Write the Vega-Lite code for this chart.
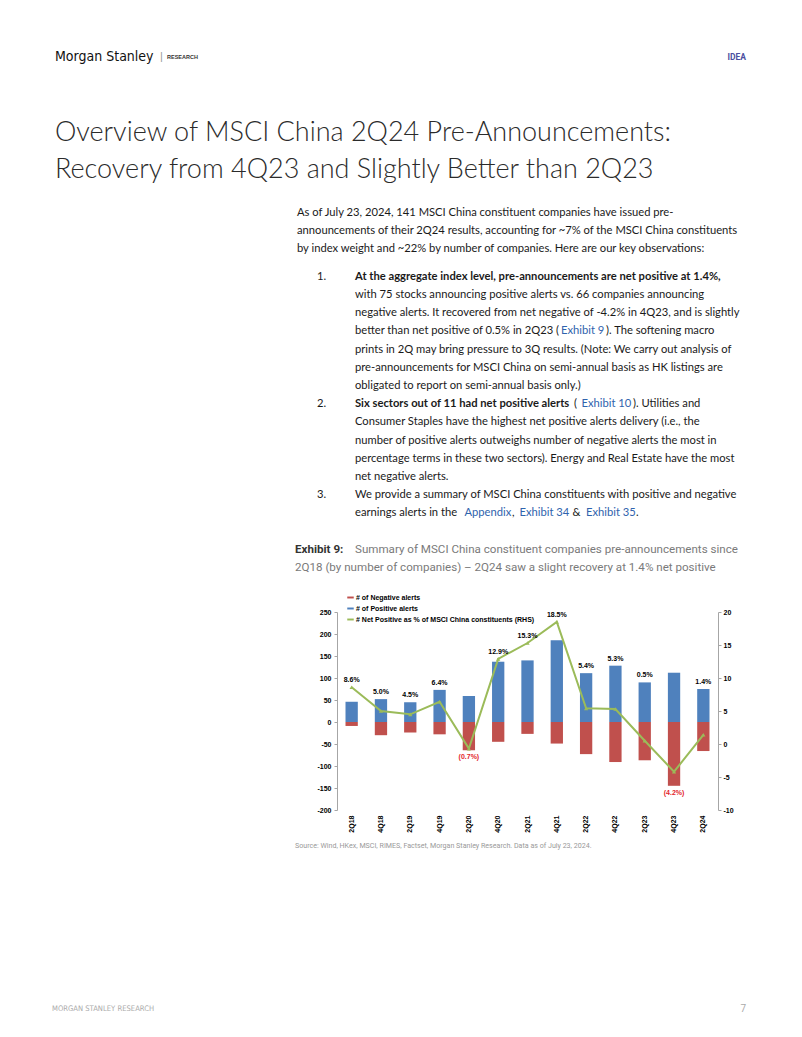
{
"$schema":"https://vega.github.io/schema/vega-lite/v6.json",
"width":381,"height":198,
"autosize":"none",
"padding":{"left":337,"top":612,"right":84,"bottom":227},
"background":"white",
"config":{"view":{"stroke":null},"font":"Liberation Sans"},
"datasets":{
"chart":[
{"q":"2Q18","pos":46,"neg":-9,"pct":8.6,"label":"8.6%"},
{"q":"4Q18","pos":52,"neg":-30,"pct":5.0,"label":"5.0%"},
{"q":"2Q19","pos":45,"neg":-24,"pct":4.5,"label":"4.5%"},
{"q":"4Q19","pos":73,"neg":-28,"pct":6.4,"label":"6.4%"},
{"q":"2Q20","pos":59,"neg":-64,"pct":-0.7,"label":"(0.7%)"},
{"q":"4Q20","pos":137,"neg":-45,"pct":12.9,"label":"12.9%"},
{"q":"2Q21","pos":140,"neg":-27,"pct":15.3,"label":"15.3%"},
{"q":"4Q21","pos":186,"neg":-49,"pct":18.5,"label":"18.5%"},
{"q":"2Q22","pos":111,"neg":-73,"pct":5.4,"label":"5.4%"},
{"q":"4Q22","pos":128,"neg":-91,"pct":5.3,"label":"5.3%"},
{"q":"2Q23","pos":90,"neg":-87,"pct":0.5,"label":"0.5%"},
{"q":"4Q23","pos":112,"neg":-145,"pct":-4.2,"label":"(4.2%)"},
{"q":"2Q24","pos":75,"neg":-66,"pct":1.4,"label":"1.4%"}
],
"page":[
{"block":"brand","line":-8.57,"text":"Morgan Stanley"},
{"block":"sep","line":-8.57,"text":"|"},
{"block":"research","line":-8.57,"text":"RESEARCH"},
{"block":"idea","line":-8.57,"text":"IDEA"},
{"block":"title","line":-4.40,"text":"Overview of MSCI China 2Q24 Pre-Announcements:"},
{"block":"title","line":-2.36,"text":"Recovery from 4Q23 and Slightly Better than 2Q23"},
{"block":"body","line":0,"text":"As of July 23, 2024, 141 MSCI China constituent companies have issued pre-"},
{"block":"body","line":1,"text":"announcements of their 2Q24 results, accounting for ~7% of the MSCI China constituents"},
{"block":"body","line":2,"text":"by index weight and ~22% by number of companies. Here are our key observations:"},
{"block":"num","line":3.5,"text":"1."},
{"block":"num","line":10.5,"text":"2."},
{"block":"num","line":15.5,"text":"3."},
{"block":"itembold","line":3.5,"text":"At the aggregate index level, pre-announcements are net positive at 1.4%,"},
{"block":"itembold","line":10.5,"text":"Six sectors out of 11 had net positive alerts"},
{"block":"item","line":4.5,"text":"with 75 stocks announcing positive alerts vs. 66 companies announcing"},
{"block":"item","line":5.5,"text":"negative alerts. It recovered from net negative of -4.2% in 4Q23, and is slightly"},
{"block":"item","line":6.5,"text":"better than net positive of 0.5% in 2Q23 ("},
{"block":"exh9","line":6.5,"text":"Exhibit 9"},
{"block":"after9","line":6.5,"text":"). The softening macro"},
{"block":"item","line":7.5,"text":"prints in 2Q may bring pressure to 3Q results. (Note: We carry out analysis of"},
{"block":"item","line":8.5,"text":"pre-announcements for MSCI China on semi-annual basis as HK listings are"},
{"block":"item","line":9.5,"text":"obligated to report on semi-annual basis only.)"},
{"block":"paren10","line":10.5,"text":"("},
{"block":"exh10","line":10.5,"text":"Exhibit 10"},
{"block":"after10","line":10.5,"text":"). Utilities and"},
{"block":"item","line":11.5,"text":"Consumer Staples have the highest net positive alerts delivery (i.e., the"},
{"block":"item","line":12.5,"text":"number of positive alerts outweighs number of negative alerts the most in"},
{"block":"item","line":13.5,"text":"percentage terms in these two sectors). Energy and Real Estate have the most"},
{"block":"item","line":14.5,"text":"net negative alerts."},
{"block":"item","line":15.5,"text":"We provide a summary of MSCI China constituents with positive and negative"},
{"block":"item","line":16.5,"text":"earnings alerts in the"},
{"block":"appendix","line":16.5,"text":"Appendix"},
{"block":"comma","line":16.5,"text":","},
{"block":"exh34","line":16.5,"text":"Exhibit 34"},
{"block":"amp","line":16.5,"text":"&"},
{"block":"exh35","line":16.5,"text":"Exhibit 35"},
{"block":"period","line":16.5,"text":"."},
{"block":"capbold","line":18.52,"text":"Exhibit 9:"},
{"block":"cap","line":18.52,"text":"Summary of MSCI China constituent companies pre-announcements since"},
{"block":"cap2","line":19.51,"text":"2Q18 (by number of companies) – 2Q24 saw a slight recovery at 1.4% net positive"},
{"block":"source","line":34.78,"text":"Source: Wind, HKex, MSCI, RIMES, Factset, Morgan Stanley Research. Data as of July 23, 2024."},
{"block":"footer","line":43.74,"text":"MORGAN STANLEY RESEARCH"},
{"block":"pagenum","line":43.74,"text":"7"}
]
},
"layer":[
{"data":{"name":"chart"},
 "encoding":{"x":{"field":"q","type":"ordinal","sort":null,"scale":{"paddingInner":0.58,"paddingOuter":0.29},
   "axis":{"title":null,"labelAngle":-90,"domain":false,"ticks":false,"labelPadding":5,"labelFont":"Liberation Sans","labelFontWeight":"bold","labelFontSize":7,"labelColor":"#000"}}},
 "layer":[
  {"layer":[
    {"mark":{"type":"bar"},
     "encoding":{"y":{"field":"pos","type":"quantitative","scale":{"domain":[-200,250],"nice":false,"zero":false},
        "axis":{"orient":"left","title":null,"grid":false,"values":[-200,-150,-100,-50,0,50,100,150,200,250],"labelOverlap":false,"labelExpr":"toString(datum.value)","domainColor":"#a6a6a6","tickColor":"#a6a6a6","tickSize":3,"labelPadding":3,"labelFont":"Liberation Sans","labelFontWeight":"bold","labelFontSize":7,"labelColor":"#000"}},
      "color":{"datum":"# of Positive alerts","type":"nominal",
        "scale":{"domain":["# of Negative alerts","# of Positive alerts","# Net Positive as % of MSCI China constituents (RHS)"],"range":["#c0504d","#4f81bd","#9bbb59"]},
        "legend":{"orient":"none","legendX":10,"legendY":-18,"title":null,"symbolType":"M-1,-0.3H1V0.3H-1Z","symbolSize":42,"symbolStrokeWidth":0,"labelFont":"Liberation Sans","labelFontWeight":"bold","labelFontSize":7,"labelColor":"#000","rowPadding":3,"labelOffset":2,"labelLimit":400}}}},
    {"mark":{"type":"bar"},
     "encoding":{"y":{"field":"neg","type":"quantitative",
        "axis":{"orient":"left","title":null,"grid":false,"values":[-200,-150,-100,-50,0,50,100,150,200,250],"labelOverlap":false,"labelExpr":"toString(datum.value)","domainColor":"#a6a6a6","tickColor":"#a6a6a6","tickSize":3,"labelPadding":3,"labelFont":"Liberation Sans","labelFontWeight":"bold","labelFontSize":7,"labelColor":"#000"}},
      "color":{"datum":"# of Negative alerts","type":"nominal"}}},
    {"mark":{"type":"rule","color":"#a6a6a6","strokeWidth":1},"encoding":{"y":{"datum":0,"type":"quantitative",
        "axis":{"orient":"left","title":null,"grid":false,"values":[-200,-150,-100,-50,0,50,100,150,200,250],"labelOverlap":false,"labelExpr":"toString(datum.value)","domainColor":"#a6a6a6","tickColor":"#a6a6a6","tickSize":3,"labelPadding":3,"labelFont":"Liberation Sans","labelFontWeight":"bold","labelFontSize":7,"labelColor":"#000"}}}},
    {"transform":[{"filter":"datum.pct >= 0 && (datum.pct+10)/30 <= (datum.pos+200)/450"}],
     "mark":{"type":"text","font":"Liberation Sans","fontWeight":"bold","fontSize":7,"color":"#000","baseline":"bottom","dy":-4},
     "encoding":{"y":{"field":"pos","type":"quantitative",
        "axis":{"orient":"left","title":null,"grid":false,"values":[-200,-150,-100,-50,0,50,100,150,200,250],"labelOverlap":false,"labelExpr":"toString(datum.value)","domainColor":"#a6a6a6","tickColor":"#a6a6a6","tickSize":3,"labelPadding":3,"labelFont":"Liberation Sans","labelFontWeight":"bold","labelFontSize":7,"labelColor":"#000"}},"text":{"field":"label"}}},
    {"transform":[{"filter":"datum.pct < 0"}],
     "mark":{"type":"text","font":"Liberation Sans","fontWeight":"bold","fontSize":7,"color":"#e3262b","baseline":"top","dy":3},
     "encoding":{"y":{"field":"neg","type":"quantitative",
        "axis":{"orient":"left","title":null,"grid":false,"values":[-200,-150,-100,-50,0,50,100,150,200,250],"labelOverlap":false,"labelExpr":"toString(datum.value)","domainColor":"#a6a6a6","tickColor":"#a6a6a6","tickSize":3,"labelPadding":3,"labelFont":"Liberation Sans","labelFontWeight":"bold","labelFontSize":7,"labelColor":"#000"}},"text":{"field":"label"}}}
  ]},
  {"layer":[
    {"mark":{"type":"line","strokeWidth":2,"point":{"filled":true,"shape":"triangle-up","size":18}},
     "encoding":{"y":{"field":"pct","type":"quantitative","scale":{"domain":[-10,20],"nice":false,"zero":false},
        "axis":{"orient":"right","title":null,"grid":false,"values":[-10,-5,0,5,10,15,20],"labelOverlap":false,"labelExpr":"toString(datum.value)","domainColor":"#a6a6a6","tickColor":"#a6a6a6","tickSize":3,"labelPadding":2,"labelFont":"Liberation Sans","labelFontWeight":"bold","labelFontSize":7,"labelColor":"#000"}},
      "color":{"datum":"# Net Positive as % of MSCI China constituents (RHS)","type":"nominal"}}},
    {"transform":[{"filter":"datum.pct >= 0 && (datum.pct+10)/30 > (datum.pos+200)/450"}],
     "mark":{"type":"text","font":"Liberation Sans","fontWeight":"bold","fontSize":7,"color":"#000","baseline":"bottom","dy":-4},
     "encoding":{"y":{"field":"pct","type":"quantitative",
        "axis":{"orient":"right","title":null,"grid":false,"values":[-10,-5,0,5,10,15,20],"labelOverlap":false,"labelExpr":"toString(datum.value)","domainColor":"#a6a6a6","tickColor":"#a6a6a6","tickSize":3,"labelPadding":2,"labelFont":"Liberation Sans","labelFontWeight":"bold","labelFontSize":7,"labelColor":"#000"}},"text":{"field":"label"}}}
  ]}
 ],
 "resolve":{"scale":{"y":"independent"}}
},
{"data":{"name":"page"},
 "encoding":{"y":{"field":"line","type":"quantitative","scale":{"domain":[0,10],"range":[-399,-217],"zero":false,"nice":false},"axis":null},"text":{"field":"text"}},
 "layer":[
  {"transform":[{"filter":"datum.block == 'brand'"}],"mark":{"type":"text","align":"left","font":"DejaVu Sans Condensed, Roboto","fontSize":14,"color":"#111"},
   "encoding":{"x":{"datum":55,"type":"quantitative","scale":{"domain":[0,802],"range":[-337,465],"zero":false,"nice":false},"axis":null}}},
  {"transform":[{"filter":"datum.block == 'sep'"}],"mark":{"type":"text","align":"left","font":"Liberation Sans","fontSize":11,"color":"#999"},
   "encoding":{"x":{"datum":160,"type":"quantitative","scale":{"domain":[0,802],"range":[-337,465],"zero":false,"nice":false},"axis":null}}},
  {"transform":[{"filter":"datum.block == 'research'"}],"mark":{"type":"text","align":"left","font":"Liberation Sans","fontWeight":"bold","fontSize":5.5,"color":"#333"},
   "encoding":{"x":{"datum":167,"type":"quantitative","scale":{"domain":[0,802],"range":[-337,465],"zero":false,"nice":false},"axis":null}}},
  {"transform":[{"filter":"datum.block == 'idea'"}],"mark":{"type":"text","align":"right","font":"Roboto","fontWeight":"bold","fontSize":8.5,"color":"#4b4fa0"},
   "encoding":{"x":{"datum":746,"type":"quantitative","scale":{"domain":[0,802],"range":[-337,465],"zero":false,"nice":false},"axis":null}}},
  {"transform":[{"filter":"datum.block == 'title'"}],"mark":{"type":"text","align":"left","font":"Lato","fontWeight":300,"fontSize":27,"color":"#2b2b2b"},
   "encoding":{"x":{"datum":55,"type":"quantitative","scale":{"domain":[0,802],"range":[-337,465],"zero":false,"nice":false},"axis":null}}},
  {"transform":[{"filter":"datum.block == 'body'"}],"mark":{"type":"text","align":"left","font":"Lato","fontSize":11.2,"color":"#1a1a1a"},
   "encoding":{"x":{"datum":297,"type":"quantitative","scale":{"domain":[0,802],"range":[-337,465],"zero":false,"nice":false},"axis":null}}},
  {"transform":[{"filter":"datum.block == 'num'"}],"mark":{"type":"text","align":"left","font":"Lato","fontSize":11.2,"color":"#1a1a1a"},
   "encoding":{"x":{"datum":317,"type":"quantitative","scale":{"domain":[0,802],"range":[-337,465],"zero":false,"nice":false},"axis":null}}},
  {"transform":[{"filter":"datum.block == 'itembold'"}],"mark":{"type":"text","align":"left","font":"Lato","fontWeight":"bold","fontSize":11.2,"color":"#1a1a1a"},
   "encoding":{"x":{"datum":355,"type":"quantitative","scale":{"domain":[0,802],"range":[-337,465],"zero":false,"nice":false},"axis":null}}},
  {"transform":[{"filter":"datum.block == 'item'"}],"mark":{"type":"text","align":"left","font":"Lato","fontSize":11.2,"color":"#1a1a1a"},
   "encoding":{"x":{"datum":355,"type":"quantitative","scale":{"domain":[0,802],"range":[-337,465],"zero":false,"nice":false},"axis":null}}},
  {"transform":[{"filter":"datum.block == 'exh9'"}],"mark":{"type":"text","align":"left","font":"Lato","fontSize":11.2,"color":"#2f63ad"},
   "encoding":{"x":{"datum":561,"type":"quantitative","scale":{"domain":[0,802],"range":[-337,465],"zero":false,"nice":false},"axis":null}}},
  {"transform":[{"filter":"datum.block == 'after9'"}],"mark":{"type":"text","align":"left","font":"Lato","fontSize":11.2,"color":"#1a1a1a"},
   "encoding":{"x":{"datum":606,"type":"quantitative","scale":{"domain":[0,802],"range":[-337,465],"zero":false,"nice":false},"axis":null}}},
  {"transform":[{"filter":"datum.block == 'paren10'"}],"mark":{"type":"text","align":"left","font":"Lato","fontSize":11.2,"color":"#1a1a1a"},
   "encoding":{"x":{"datum":574,"type":"quantitative","scale":{"domain":[0,802],"range":[-337,465],"zero":false,"nice":false},"axis":null}}},
  {"transform":[{"filter":"datum.block == 'exh10'"}],"mark":{"type":"text","align":"left","font":"Lato","fontSize":11.2,"color":"#2f63ad"},
   "encoding":{"x":{"datum":581.5,"type":"quantitative","scale":{"domain":[0,802],"range":[-337,465],"zero":false,"nice":false},"axis":null}}},
  {"transform":[{"filter":"datum.block == 'after10'"}],"mark":{"type":"text","align":"left","font":"Lato","fontSize":11.2,"color":"#1a1a1a"},
   "encoding":{"x":{"datum":633,"type":"quantitative","scale":{"domain":[0,802],"range":[-337,465],"zero":false,"nice":false},"axis":null}}},
  {"transform":[{"filter":"datum.block == 'appendix'"}],"mark":{"type":"text","align":"left","font":"Lato","fontSize":11.2,"color":"#2f63ad"},
   "encoding":{"x":{"datum":464.5,"type":"quantitative","scale":{"domain":[0,802],"range":[-337,465],"zero":false,"nice":false},"axis":null}}},
  {"transform":[{"filter":"datum.block == 'comma'"}],"mark":{"type":"text","align":"left","font":"Lato","fontSize":11.2,"color":"#1a1a1a"},
   "encoding":{"x":{"datum":512,"type":"quantitative","scale":{"domain":[0,802],"range":[-337,465],"zero":false,"nice":false},"axis":null}}},
  {"transform":[{"filter":"datum.block == 'exh34'"}],"mark":{"type":"text","align":"left","font":"Lato","fontSize":11.2,"color":"#2f63ad"},
   "encoding":{"x":{"datum":519.5,"type":"quantitative","scale":{"domain":[0,802],"range":[-337,465],"zero":false,"nice":false},"axis":null}}},
  {"transform":[{"filter":"datum.block == 'amp'"}],"mark":{"type":"text","align":"left","font":"Lato","fontSize":11.2,"color":"#1a1a1a"},
   "encoding":{"x":{"datum":572.5,"type":"quantitative","scale":{"domain":[0,802],"range":[-337,465],"zero":false,"nice":false},"axis":null}}},
  {"transform":[{"filter":"datum.block == 'exh35'"}],"mark":{"type":"text","align":"left","font":"Lato","fontSize":11.2,"color":"#2f63ad"},
   "encoding":{"x":{"datum":586,"type":"quantitative","scale":{"domain":[0,802],"range":[-337,465],"zero":false,"nice":false},"axis":null}}},
  {"transform":[{"filter":"datum.block == 'period'"}],"mark":{"type":"text","align":"left","font":"Lato","fontSize":11.2,"color":"#1a1a1a"},
   "encoding":{"x":{"datum":636,"type":"quantitative","scale":{"domain":[0,802],"range":[-337,465],"zero":false,"nice":false},"axis":null}}},
  {"transform":[{"filter":"datum.block == 'capbold'"}],"mark":{"type":"text","align":"left","font":"Roboto","fontWeight":"bold","fontSize":11.6,"color":"#333"},
   "encoding":{"x":{"datum":295,"type":"quantitative","scale":{"domain":[0,802],"range":[-337,465],"zero":false,"nice":false},"axis":null}}},
  {"transform":[{"filter":"datum.block == 'cap'"}],"mark":{"type":"text","align":"left","font":"Roboto","fontSize":11.6,"color":"#7a7a7a"},
   "encoding":{"x":{"datum":355,"type":"quantitative","scale":{"domain":[0,802],"range":[-337,465],"zero":false,"nice":false},"axis":null}}},
  {"transform":[{"filter":"datum.block == 'cap2'"}],"mark":{"type":"text","align":"left","font":"Roboto","fontSize":11.6,"color":"#7a7a7a"},
   "encoding":{"x":{"datum":295,"type":"quantitative","scale":{"domain":[0,802],"range":[-337,465],"zero":false,"nice":false},"axis":null}}},
  {"transform":[{"filter":"datum.block == 'source'"}],"mark":{"type":"text","align":"left","font":"Roboto","fontSize":7.1,"color":"#999"},
   "encoding":{"x":{"datum":295,"type":"quantitative","scale":{"domain":[0,802],"range":[-337,465],"zero":false,"nice":false},"axis":null}}},
  {"transform":[{"filter":"datum.block == 'footer'"}],"mark":{"type":"text","align":"left","font":"DejaVu Sans Condensed, Roboto","fontSize":7.6,"color":"#aaa"},
   "encoding":{"x":{"datum":52,"type":"quantitative","scale":{"domain":[0,802],"range":[-337,465],"zero":false,"nice":false},"axis":null}}},
  {"transform":[{"filter":"datum.block == 'pagenum'"}],"mark":{"type":"text","align":"right","font":"Roboto","fontSize":10,"color":"#aaa"},
   "encoding":{"x":{"datum":746,"type":"quantitative","scale":{"domain":[0,802],"range":[-337,465],"zero":false,"nice":false},"axis":null}}}
 ]
}
],
"resolve":{"scale":{"x":"independent","y":"independent","color":"independent"}}
}
